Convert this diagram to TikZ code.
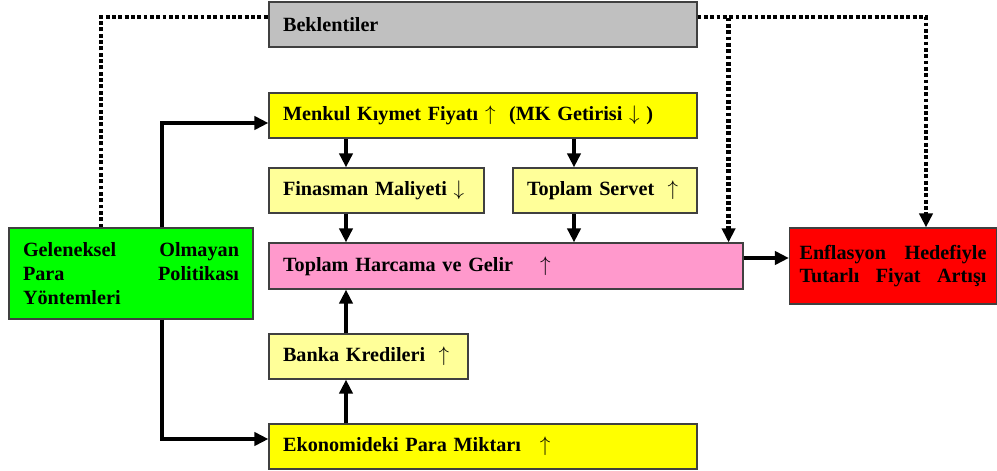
\documentclass[tikz,border=0pt]{standalone}
\usepackage{fontspec}
\setmainfont{Liberation Serif}
\usetikzlibrary{arrows.meta,positioning}
\definecolor{KutuGri}{RGB}{192,192,192}
\definecolor{KutuSari}{RGB}{255,255,0}
\definecolor{AcikSari}{RGB}{255,255,153}
\definecolor{KutuPembe}{RGB}{255,153,204}
\definecolor{KutuYesil}{RGB}{0,255,0}
\definecolor{KutuKirmizi}{RGB}{255,0,0}

\begin{document}
\begin{tikzpicture}[x=0.02cm,y=-0.02cm,
        kutu/.style={draw=black!75,line width=0.7pt,
                     font=\fontsize{11.5}{13.5}\selectfont\bfseries,
                     minimum height=0.9cm,inner xsep=0.28cm,align=left},
        ok/.style={line width=2.3pt,-{Triangle[length=8pt,width=7.5pt]}},
        noktali/.style={line width=2.4pt,dash pattern=on 2.2pt off 1.4pt},
        nokok/.style={noktali,-{Triangle[length=8pt,width=7.5pt]}}
      ]
        \useasboundingbox (0,0) rectangle (997,470);
        \node[kutu,fill=KutuGri,text width=8cm]     (bek) at (483,24.5)  {Beklentiler};
        \node[kutu,fill=KutuSari,text width=8cm]    (mk)  at (483,115.5) {Menkul Kıymet Fiyatı $\uparrow$ \ (MK Getirisi $\downarrow$ )};
        \node[kutu,fill=AcikSari,text width=3.74cm] (fin) at (376.5,190.5) {Finasman Maliyeti $\downarrow$};
        \node[kutu,fill=AcikSari,text width=3.12cm] (ser) at (605,190.5) {Toplam Servet \ $\uparrow$};
        \node[kutu,fill=KutuPembe,text width=8.92cm,minimum height=0.92cm] (har) at (506,266) {Toplam Harcama ve Gelir \hspace{1em}$\uparrow$};
        \node[kutu,fill=AcikSari,text width=3.42cm] (ban) at (368.5,356.5) {Banka Kredileri \ $\uparrow$};
        \node[kutu,fill=KutuSari,text width=8cm]    (eko) at (483,446.5) {Ekonomideki Para Miktarı \hspace{0.6em}$\uparrow$};
        \node[kutu,fill=KutuYesil,text width=4.32cm,minimum height=1.82cm] (gel) at (131,273.5)
          {Geleneksel\hfill Olmayan\\ Para\hfill Politikası\\ Yöntemleri};
        \node[kutu,fill=KutuKirmizi,text width=3.74cm,inner xsep=0.2cm,minimum height=1.52cm] (enf) at (893,266)
          {Enflasyon\hfill Hedefiyle\\ Tutarlı\hfill Fiyat\hfill Artışı};
        % sutunlar
        \coordinate (s1) at (346,0);
        \coordinate (s2) at (574,0);
        % beklentiler
        \draw[noktali] ([xshift=-0.6cm]gel.north) |- ([yshift=0.15cm]bek.west);
        \draw[nokok] ([yshift=0.15cm]bek.east) -| ([xshift=-0.3cm]har.north east);
        \draw[nokok] ([yshift=0.15cm]bek.east) -| ([xshift=0.66cm]enf.north);
        % kanallar
        \draw[ok] ([xshift=0.62cm]gel.north) |- ([yshift=-0.15cm]mk.west);
        \draw[ok] ([xshift=0.62cm]gel.south) |- ([yshift=0.15cm]eko.west);
        \draw[ok] (mk.south -| s1) -- (fin.north -| s1);
        \draw[ok] (mk.south -| s2) -- (ser.north -| s2);
        \draw[ok] (fin.south -| s1) -- (har.north -| s1);
        \draw[ok] (ser.south -| s2) -- (har.north -| s2);
        \draw[ok] (eko.north -| s1) -- (ban.south -| s1);
        \draw[ok] (ban.north -| s1) -- (har.south -| s1);
        \draw[ok] ([yshift=0.16cm]har.east) -- ([yshift=0.16cm]enf.west);
      \end{tikzpicture}
\end{document}
